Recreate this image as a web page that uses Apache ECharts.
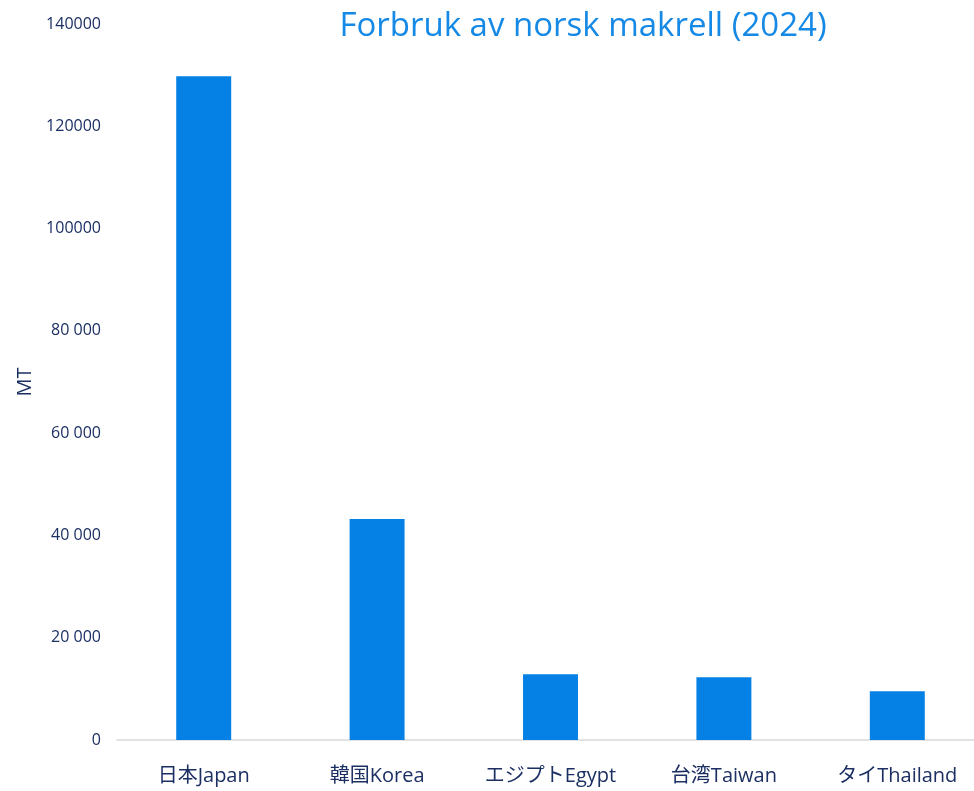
<!DOCTYPE html>
<html>
<head>
<meta charset="utf-8">
<script src="https://cdn.jsdelivr.net/npm/echarts@6/dist/echarts.min.js"></script>
<style>
    html, body { margin: 0; padding: 0; background: #fff; }
    #chart { width: 974px; height: 791px; }
</style>
</head>
<body>
<div id="chart"></div>
<script>
var countries = ['日本Japan', '韓国Korea', 'エジプトEgypt', '台湾Taiwan', 'タイThailand'];
var tonnes = [129800, 43200, 12850, 12260, 9520];
var yTickLabels = ['0', '20 000', '40 000', '60 000', '80 000', '100000', '120000', '140000'];

var myChart = echarts.init(document.getElementById('chart'));

var labelColor = '#1b2f63';
var font = '"Open Sans", "Noto Sans CJK JP", sans-serif';

var option = {
    title: {
        text: 'Forbruk av norsk makrell (2024)',
        left: 578,
        top: 5,
        textAlign: 'center',
        textStyle: {
            color: '#1589e6',
            fontSize: 33,
            fontWeight: 'normal',
            fontFamily: font
        }
    },
    grid: {
        left: 117,
        top: 24,
        width: 867,
        bottom: 51,
        outerBoundsMode: 'none',
        containLabel: false
    },
    xAxis: {
        type: 'category',
        data: countries,
        axisLine: { lineStyle: { color: '#d9d9d9', width: 1.5 } },
        axisTick: { show: false },
        axisLabel: {
            color: labelColor,
            fontSize: 20,
            fontFamily: font,
            margin: 26
        }
    },
    yAxis: {
        type: 'value',
        min: 0,
        max: 140000,
        interval: 20000,
        name: 'MT',
        nameLocation: 'middle',
        nameGap: 78,
        nameTextStyle: {
            color: labelColor,
            fontSize: 20,
            fontFamily: font
        },
        splitLine: { show: false },
        axisLine: { show: false },
        axisTick: { show: false },
        axisLabel: {
            color: labelColor,
            fontSize: 16,
            fontFamily: font,
            margin: 16,
            formatter: function (value) {
                return yTickLabels[Math.round(value / 20000)];
            }
        }
    },
    series: [
        {
            type: 'bar',
            data: tonnes,
            barWidth: '31.7%',
            itemStyle: { color: '#0581e6' }
        }
    ],
    animation: false
};

myChart.setOption(option);
</script>
</body>
</html>
